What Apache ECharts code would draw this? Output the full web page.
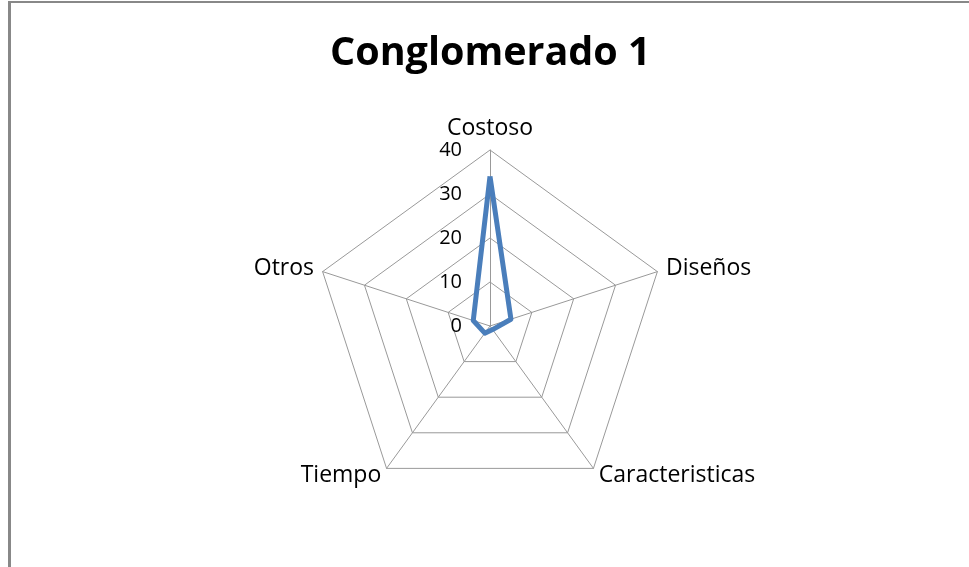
<!DOCTYPE html>
<html><head><meta charset="utf-8">
<script src="https://cdn.jsdelivr.net/npm/echarts@6/dist/echarts.min.js"></script>
<style>
html,body{margin:0;padding:0;background:#fff;}
#frame{position:absolute;left:8px;top:1px;width:961px;height:566px;border-left:3px solid #888;border-top:2px solid #888;box-sizing:border-box;}
#c{position:absolute;left:0;top:0;width:969px;height:567px;}
</style></head>
<body>
<div id="frame"></div>
<div id="c"></div>
<script>
// clockwise order from top
const categories = ['Costoso', 'Diseños', 'Caracteristicas', 'Tiempo', 'Otros'];
const values = [34, 5, 1, 2, 4];
const axisMax = 40;
const tickLabels = ['0', '10', '20', '30', '40'];

// ECharts places indicators counter-clockwise; reorder to draw clockwise
const order = [0, 4, 3, 2, 1];
const indicator = order.map((i, k) => {
  const o = { name: categories[i], max: axisMax, min: 0 };
  if (k === 0) o.axisLabel = { show: true };
  return o;
});
const data = order.map(i => values[i]);

const chart = echarts.init(document.getElementById('c'));
chart.setOption({
  animation: false,
  title: {
    text: 'Conglomerado 1', left: 325, top: 29,
    textStyle: { fontFamily: 'Open Sans', fontWeight: 'bold', fontSize: 39.5, color: '#000' }
  },
  radar: {
    center: [490, 326],
    radius: 176,
    startAngle: 90,
    splitNumber: 4,
    shape: 'polygon',
    indicator: indicator,
    axisName: { color: '#000', fontFamily: 'Open Sans', fontSize: 23 },
    nameGap: 9,
    axisLine: { lineStyle: { color: '#999', width: 1 } },
    splitLine: { lineStyle: { color: '#999', width: 1 } },
    splitArea: { show: false },
    axisTick: { show: false },
    axisLabel: {
      show: false, color: '#000', fontFamily: 'Open Sans', fontSize: 20, margin: 28,
      formatter: v => tickLabels[Math.round(v / 10)]
    }
  },
  series: [{
    type: 'radar',
    symbol: 'none',
    lineStyle: { color: '#4a7ebb', width: 5 },
    data: [{ value: data }]
  }]
});
</script>
</body></html>
